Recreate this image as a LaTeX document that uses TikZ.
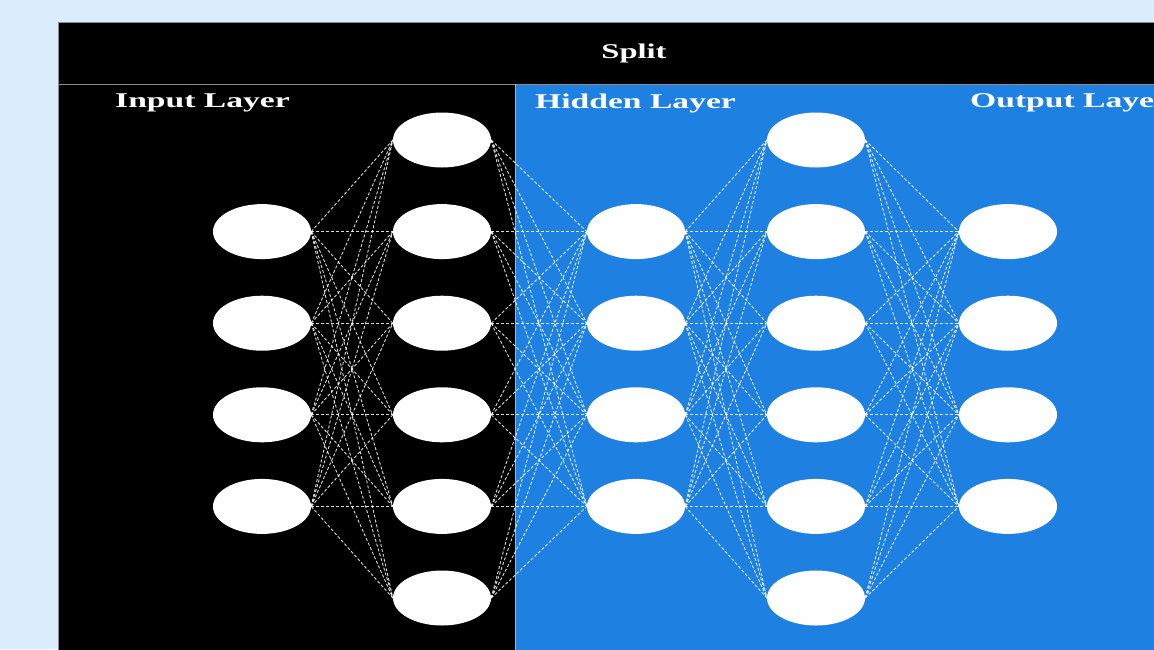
\documentclass[tikz,border=0pt]{standalone}
\usepackage{fontspec}
\setmainfont{Liberation Serif}
\usepackage{graphicx}
\usetikzlibrary{shapes.geometric}
\definecolor{bgblue}{HTML}{DAEDFC}
\definecolor{panelblue}{HTML}{1E80E0}
\definecolor{rulegray}{HTML}{8C8C8C}
\definecolor{divgray}{HTML}{9FB4BE}
\begin{document}
\begin{tikzpicture}[x=1pt,y=-1pt,
  neuron/.style={ellipse, fill=white, draw=none, minimum width=98pt, minimum height=55pt, inner sep=0pt},
  link/.style={white, opacity=0.85, line width=0.9pt, dash pattern=on 3pt off 2pt},
  title/.style={text=white, font=\fontsize{21}{25}\selectfont\bfseries, inner sep=0pt}]
\useasboundingbox (0,0) rectangle (1154,649);
\clip (0,0) rectangle (1154,649);
\fill[bgblue] (0,0) rectangle (1154,649);
\fill[black] (58,22) rectangle (1160,655);
\fill[panelblue] (515,84) rectangle (1160,655);
\draw[rulegray, line width=0.8pt] (58,22) -- (1160,22);
\draw[rulegray, line width=0.8pt] (58,22) -- (58,655);
\draw[rulegray, line width=1pt] (58,84) -- (1160,84);
\draw[divgray, line width=1pt] (515,84) -- (515,655);
% titles
\node[title] (split) at (634,53) {\scalebox{1.55}[1]{Split}};
\node[title, anchor=west] (inlab) at (115,103) {\scalebox{1.6}[1]{Input Layer}};
\node[title, anchor=west] (hidlab) at (535,103) {\scalebox{1.6}[1]{Hidden Layer}};
\node[title, anchor=west] (outlab) at (970,103) {\scalebox{1.6}[1]{Output Laye}};
% neurons
\foreach \r/\y in {1/140,2/231.6,3/323.2,4/414.8,5/506.4,6/598}{
  \node[neuron] (n2-\r) at (442,\y) {};
  \node[neuron] (n4-\r) at (816,\y) {};
}
\foreach \r/\y in {2/231.6,3/323.2,4/414.8,5/506.4}{
  \node[neuron] (n1-\r) at (262,\y) {};
  \node[neuron] (n3-\r) at (636,\y) {};
  \node[neuron] (n5-\r) at (1008,\y) {};
}
% connections
\foreach \a in {2,...,5}{
  \foreach \b in {1,...,6}{
    \draw[link] (n1-\a.east) -- (n2-\b.west);
    \draw[link] (n2-\b.east) -- (n3-\a.west);
    \draw[link] (n3-\a.east) -- (n4-\b.west);
    \draw[link] (n4-\b.east) -- (n5-\a.west);
  }
}
\end{tikzpicture}
\end{document}
